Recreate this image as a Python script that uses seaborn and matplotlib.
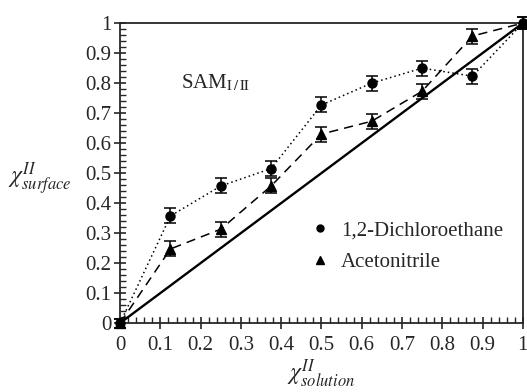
import numpy as np
import pandas as pd
import seaborn as sns
import matplotlib.pyplot as plt
from matplotlib.ticker import MultipleLocator
from matplotlib.lines import Line2D

# data
x_solution = [0, 0.125, 0.25, 0.375, 0.5, 0.625, 0.75, 0.875, 1.0]
dce_surface = [0, 0.357, 0.457, 0.515, 0.727, 0.80, 0.85, 0.823, 1.0]
acn_surface = [0, 0.247, 0.313, 0.457, 0.63, 0.673, 0.773, 0.957, 1.0]
dce_err = [0.015, 0.025, 0.025, 0.025, 0.025, 0.025, 0.025, 0.025, 0.02]
acn_err = [0.015, 0.025, 0.025, 0.025, 0.025, 0.025, 0.025, 0.025, 0.02]
diag = [0, 1]

sns.set_style('ticks')
plt.rcParams['font.family'] = ['Liberation Serif', 'DejaVu Serif']
plt.rcParams['mathtext.fontset'] = 'stix'

df = pd.DataFrame({'x': x_solution, 'dce': dce_surface, 'acn': acn_surface})

fig = plt.figure(figsize=(5.27, 3.92), dpi=100)
ax = fig.add_axes([0.228, 0.176, 0.764, 0.765])

sns.lineplot(x=diag, y=diag, ax=ax, color='black', lw=1.7)
sns.lineplot(data=df, x='x', y='dce', ax=ax, color='black', lw=1.1, linestyle=(0, (1, 2)))
sns.lineplot(data=df, x='x', y='acn', ax=ax, color='black', lw=1.1, linestyle=(0, (6, 4)))
ax.errorbar(x_solution, dce_surface, yerr=dce_err, fmt='o', color='black', ms=6.5,
            capsize=4, elinewidth=1.1, capthick=1.1, clip_on=False, zorder=5)
ax.errorbar(x_solution, acn_surface, yerr=acn_err, fmt='^', color='black', ms=7.5,
            capsize=4, elinewidth=1.1, capthick=1.1, clip_on=False, zorder=5)

ax.set_xlim(0, 1)
ax.set_ylim(0, 1)
ax.xaxis.set_minor_locator(MultipleLocator(0.02))
ax.yaxis.set_minor_locator(MultipleLocator(0.02))
ticks = [0, 0.1, 0.2, 0.3, 0.4, 0.5, 0.6, 0.7, 0.8, 0.9, 1]
labels = ['0', '0.1', '0.2', '0.3', '0.4', '0.5', '0.6', '0.7', '0.8', '0.9', '1']
ax.set_xticks(ticks, labels)
ax.set_yticks(ticks, labels)
ax.tick_params(which='major', direction='inout', length=9, width=1.2, labelsize=15)
ax.tick_params(axis='x', which='major', pad=5)
ax.tick_params(axis='y', which='major', pad=2)
ax.tick_params(which='minor', direction='in', length=4, width=1)
for s in ax.spines.values():
    s.set_linewidth(1.3)

ax.set_xlabel(r'$\chi^{II}_{solution}$', fontsize=17, labelpad=2)
ax.set_ylabel(r'$\chi^{II}_{surface}$', fontsize=17, rotation=0, va='center')
ax.yaxis.set_label_coords(-0.2, 0.48)

ax.text(0.15, 0.8, r'SAM$_{\mathrm{I\,/\,II}}$', fontsize=15, va='center')

handles = [Line2D([], [], marker='o', color='black', ls='none', ms=5),
           Line2D([], [], marker='^', color='black', ls='none', ms=6)]
ax.legend(handles, ['1,2-Dichloroethane', 'Acetonitrile'], loc='center left',
          bbox_to_anchor=(0.43, 0.255), frameon=False, fontsize=15,
          handlelength=0.8, handletextpad=0.6, labelspacing=0.6)

plt.savefig('out.png', dpi=100)
plt.close()
